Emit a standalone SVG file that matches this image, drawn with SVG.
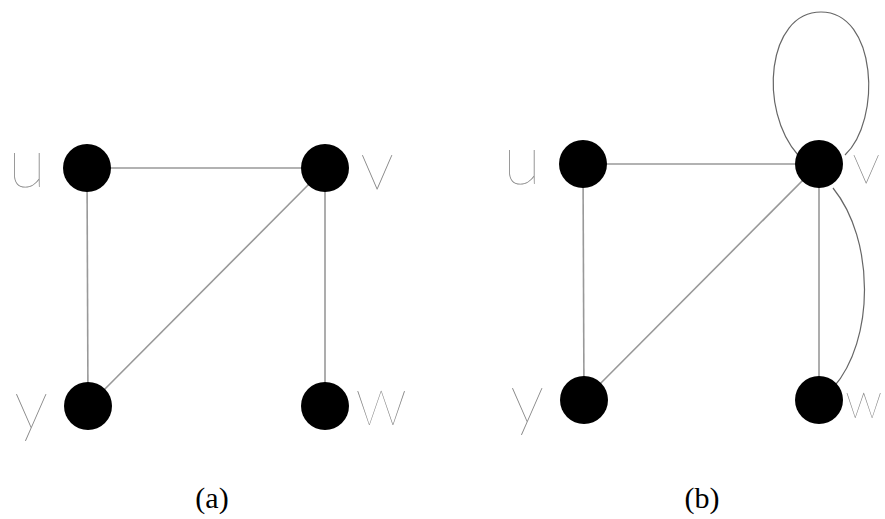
<svg xmlns="http://www.w3.org/2000/svg" width="885" height="519" viewBox="0 0 885 519">
<style>
.edge{stroke:#999;stroke-width:1.6;fill:none}
.loop{stroke:#666;stroke-width:1.2;fill:none}
.node{fill:#000}
.lbl{font-family:"Lato","DejaVu Sans",sans-serif;font-weight:100;font-size:70px;fill:#888}
.sm{font-size:58px}
.xs{font-size:50px}
.cap{font-family:"Liberation Serif","Times New Roman",serif;font-size:30px;fill:#000;text-anchor:middle}
</style>
<rect width="885" height="519" fill="#fff"/>
<g id="connectors">
<line class="edge" x1="87" y1="168" x2="325" y2="168"/>
<line class="edge" x1="87" y1="168" x2="88" y2="406"/>
<line class="edge" x1="325" y1="168" x2="88" y2="406"/>
<line class="edge" x1="325" y1="168" x2="325" y2="406"/>
<line class="edge" x1="583" y1="164" x2="819" y2="164"/>
<line class="edge" x1="583" y1="164" x2="584" y2="400"/>
<line class="edge" x1="819" y1="164" x2="584" y2="400"/>
<line class="edge" x1="819" y1="164" x2="819" y2="400"/>
<path class="loop" d="M798,155 C758,110 767,12 821,12 C877,12 882,120 845,155"/>
<path class="loop" d="M833,188 C875,240 875,340 833,388"/>
</g>
<g id="a-u"><circle class="node" cx="87" cy="168" r="24"/><text class="lbl" x="8" y="187">u</text></g>
<g id="a-v"><circle class="node" cx="325" cy="168" r="24"/><text class="lbl" x="360" y="189">v</text></g>
<g id="a-y"><circle class="node" cx="88" cy="406" r="24"/><text class="lbl" x="14" y="428">y</text></g>
<g id="a-w"><circle class="node" cx="325" cy="406" r="24"/><text class="lbl" x="355" y="425">w</text></g>
<g id="b-u"><circle class="node" cx="583" cy="164" r="24"/><text class="lbl" x="503" y="184">u</text></g>
<g id="b-v"><circle class="node" cx="819" cy="164" r="24"/><text class="lbl sm" x="852" y="184">v</text></g>
<g id="b-w"><circle class="node" cx="819" cy="400" r="24"/><text class="lbl xs" x="845" y="418">w</text></g>
<g id="b-y"><circle class="node" cx="584" cy="400" r="24"/><text class="lbl" x="510" y="422">y</text></g>
<text class="cap" x="212" y="508">(a)</text>
<text class="cap" x="702" y="508">(b)</text>
</svg>
